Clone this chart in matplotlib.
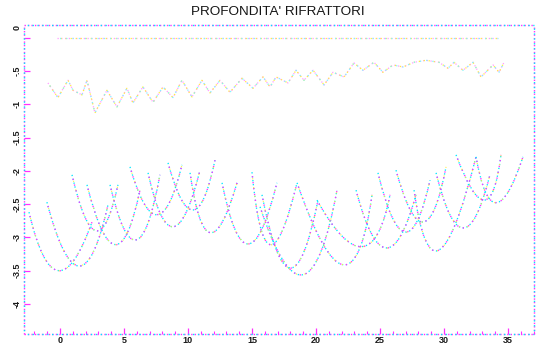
import matplotlib
matplotlib.use("Agg")
import matplotlib.pyplot as plt
from matplotlib.path import Path
from matplotlib.patches import PathPatch
from matplotlib.ticker import MultipleLocator
from matplotlib.transforms import ScaledTranslation

# ---------------- data ----------------
title = "PROFONDITA' RIFRATTORI"

x_ticks = [0, 5, 10, 15, 20, 25, 30, 35]
y_ticks = [0, -0.5, -1, -1.5, -2, -2.5, -3, -3.5, -4]
y_tick_labels = ['0', '-.5', '-1', '-1.5', '-2', '-2.5', '-3', '-3.5', '-4']

# ground surface
ground_x = [-0.2, 34.2]
ground_y = [0.0, 0.0]

# first refractor (scalloped line)
scallop_x = [-0.94, -0.16, 0.63, 1.02, 1.72, 2.11, 2.73, 3.67, 4.45, 5.23, 5.70,
             6.48, 7.27, 8.05, 8.83, 9.53, 10.31, 11.09, 11.72, 12.50, 13.28,
             14.22, 15.08, 15.86, 16.41, 16.88, 17.81, 18.44, 19.06, 19.77,
             20.63, 21.33, 22.19, 22.97, 23.67, 24.53, 25.23, 26.02, 26.80,
             27.66, 28.59, 29.61, 30.31, 30.78, 31.48, 32.27, 32.89, 33.83,
             34.30, 34.69]
scallop_y = [-0.68, -0.90, -0.64, -0.79, -0.86, -0.64, -1.13, -0.79, -1.04, -0.76,
             -0.98, -0.74, -0.97, -0.74, -0.90, -0.64, -0.89, -0.64, -0.83, -0.64,
             -0.82, -0.61, -0.76, -0.59, -0.74, -0.59, -0.68, -0.49, -0.64, -0.49,
             -0.71, -0.52, -0.59, -0.38, -0.49, -0.37, -0.52, -0.41, -0.44, -0.37,
             -0.34, -0.37, -0.46, -0.37, -0.49, -0.37, -0.59, -0.41, -0.52, -0.37]

# second refractor: arcs (left end, lowest point, right end)
arc_left_x  = [-2.42, -1.02, 0.94, 2.11, 3.91, 5.47, 6.88, 8.44, 10.16, 12.66, 15.00,
               15.78, 15.63, 18.52, 20.08, 23.13, 26.25, 27.66, 29.38, 30.94, 32.50, 24.84]
arc_left_y  = [-2.62, -2.47, -2.06, -2.21, -2.21, -1.94, -2.03, -1.88, -2.03, -2.18, -2.02,
               -2.36, -2.54, -2.18, -2.44, -2.29, -1.99, -2.29, -2.03, -1.76, -1.79, -2.03]
arc_min_x   = [-0.16, 1.48, 2.81, 4.30, 5.94, 7.58, 8.83, 10.39, 11.72, 14.69, 16.41,
               17.97, 18.98, 22.11, 23.59, 25.47, 28.36, 29.61, 31.48, 33.13, 34.06, 26.95]
arc_min_y   = [-3.50, -3.43, -2.90, -3.11, -3.04, -2.66, -2.84, -2.59, -2.93, -3.10, -3.11,
               -3.46, -3.56, -3.41, -3.14, -3.16, -2.77, -3.19, -2.86, -2.44, -2.48, -2.92]
arc_right_x = [2.50, 3.75, 4.53, 6.25, 7.81, 9.53, 10.94, 12.11, 13.83, 16.95, 18.52,
               20.16, 21.64, 24.38, 25.78, 27.81, 30.16, 32.50, 33.59, 34.45, 36.17, 28.91]
arc_right_y = [-2.77, -2.51, -2.21, -2.29, -2.06, -1.91, -1.99, -1.84, -2.18, -2.18, -2.18,
               -2.44, -2.29, -2.36, -2.36, -2.36, -1.94, -1.79, -2.06, -1.76, -1.79, -2.14]

# ---------------- style ----------------
CYAN = '#00e8ff'
MAGENTA = '#ff30ff'
YELLOW = '#ffee40'
PINK = '#ff9cff'
LCYAN = '#80f4ff'

fig = plt.figure(figsize=(5.36, 3.44), dpi=100)
ax = fig.add_axes([24 / 536, 10 / 344, 510 / 536, 309 / 344])
ax.set_xlim(-2.81, 37.03)
ax.set_ylim(-4.45, 0.19)

for s in ax.spines.values():
    s.set_visible(False)

# frame drawn as dithered dotted lines
frame = [([0, 1], [0, 0]), ([0, 0], [0, 1]), ([0, 1], [1, 1]), ([1, 1], [0, 1])]
for fx, fy in frame:
    ax.plot(fx, fy, transform=ax.transAxes, clip_on=False, color=MAGENTA,
            lw=1.0, linestyle=(0, (1, 1.5)))
    ax.plot(fx, fy, transform=ax.transAxes, clip_on=False, color=CYAN,
            lw=1.0, linestyle=(1.2, (1, 2.5)))

# ground surface
ax.plot(ground_x, ground_y, color=PINK, lw=0.9, linestyle=(0, (1, 2)))
ax.plot(ground_x, ground_y, color=YELLOW, lw=0.9, linestyle=(1.5, (1, 3)))
ax.plot(ground_x, ground_y, color=LCYAN, lw=0.9, linestyle=(3, (1, 4)))

# first refractor
ax.plot(scallop_x, scallop_y, color=PINK, lw=0.9, linestyle=(0, (1, 2)))
ax.plot(scallop_x, scallop_y, color=YELLOW, lw=0.9, linestyle=(1.5, (1, 3)))
ax.plot(scallop_x, scallop_y, color=LCYAN, lw=0.9, linestyle=(2.5, (1, 4)))

# second refractor arcs (quadratic curves through the three read points)
for xl, yl, xm, ym, xr, yr in zip(arc_left_x, arc_left_y, arc_min_x, arc_min_y,
                                  arc_right_x, arc_right_y):
    cx = 2 * xm - (xl + xr) / 2
    cy = 2 * ym - (yl + yr) / 2
    path = Path([(xl, yl), (cx, cy), (xr, yr)], [Path.MOVETO, Path.CURVE3, Path.CURVE3])
    ax.add_patch(PathPatch(path, fill=False, edgecolor=CYAN, lw=0.95,
                           linestyle=(0, (1, 2))))
    ax.add_patch(PathPatch(path, fill=False, edgecolor=MAGENTA, lw=0.95,
                           linestyle=(1.5, (1, 3.5))))
    ax.add_patch(PathPatch(path, fill=False, edgecolor=YELLOW, lw=0.8,
                           linestyle=(2.5, (1, 7))))

# ticks
ax.set_xticks(x_ticks)
ax.set_xticklabels([str(v) for v in x_ticks])
ax.xaxis.set_minor_locator(MultipleLocator(1))
ax.set_yticks(y_ticks)
ax.set_yticklabels(y_tick_labels)
ax.tick_params(axis='both', which='major', direction='in', length=4, width=0.9,
               color=MAGENTA, labelsize=6.5, labelcolor='#1a1a1a')
ax.tick_params(axis='x', which='minor', direction='in', length=2, width=0.8, color=MAGENTA)
ax.tick_params(axis='x', pad=1.5)
ax.tick_params(axis='y', pad=2, labelrotation=90)
for lab in ax.get_xticklabels() + ax.get_yticklabels():
    lab.set_fontweight('bold')
    lab.set_family('Liberation Sans')
for lab in ax.get_yticklabels():
    lab.set_va('center')
# top label sits at the top edge of the frame
ylabs = ax.get_yticklabels()
ylabs[0].set_transform(ylabs[0].get_transform() +
                       ScaledTranslation(0, 10 / 100, fig.dpi_scale_trans))

fig.text(278 / 536, 1 - 12 / 344, title, ha='center', va='center',
         fontsize=9.7, family='Liberation Sans', color='#151515')

fig.savefig('out.png', dpi=100)
